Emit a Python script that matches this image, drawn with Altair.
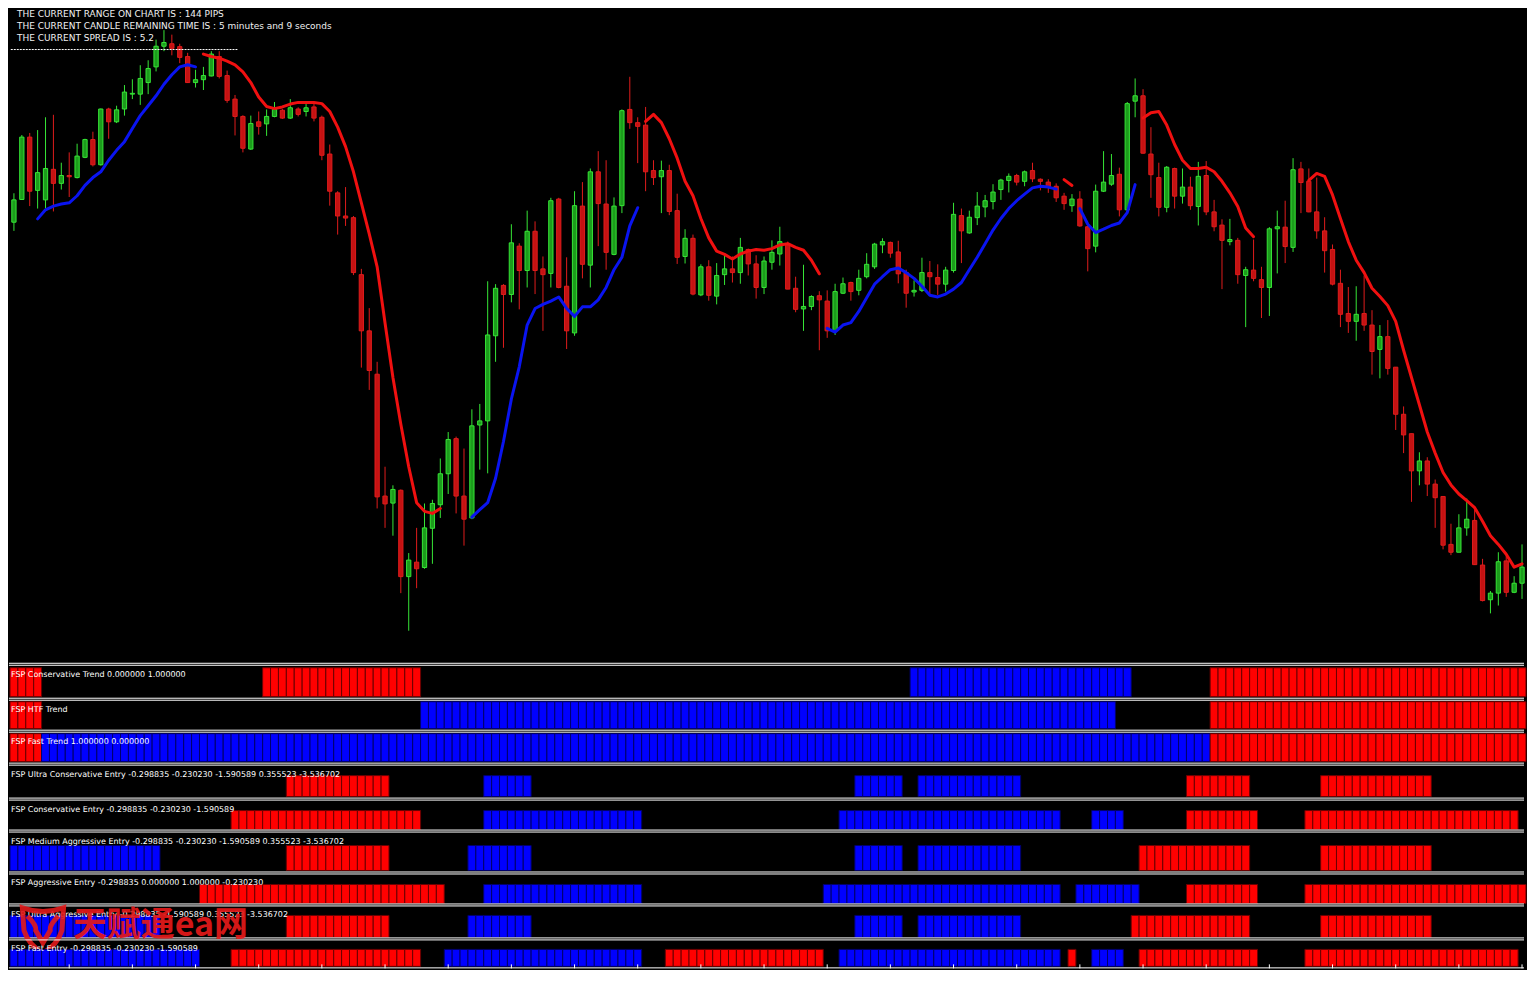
import altair as alt
import pandas as pd

# ---------------- data (prices stored as pipettes above 1.08000) ----------------
BASE = 1.08000
PIPETTE = 0.00001

OPEN = [
    1000, 1055, 1206, 1077, 1054, 1128, 1094, 1113, 1108, 1157, 1200, 1139, 1274, 1243, 1274, 1310,
    1310, 1338, 1376, 1426, 1432, 1425, 1401, 1338, 1345, 1354, 1401, 1355, 1298, 1256, 1177, 1243,
    1238, 1256, 1271, 1252, 1274, 1268, 1279, 1254, 1165, 1071, 1015, 1011, 873, 737, 632, 337,
    320, 351, 142, 177, 164, 259, 316, 391, 476, 337, 284, 509, 519, 725, 847, 825,
    942, 883, 978, 887, 876, 1056, 845, 732, 1039, 896, 1122, 1044, 922, 1040, 1273, 1241,
    1235, 1125, 1110, 1125, 1028, 917, 961, 824, 892, 821, 873, 887, 878, 934, 899, 842,
    903, 923, 948, 840, 790, 796, 822, 809, 737, 828, 854, 835, 868, 892, 945, 951,
    928, 878, 831, 835, 878, 866, 850, 883, 1016, 974, 1011, 1037, 1050, 1079, 1101, 1113,
    1099, 1125, 1104, 1097, 1087, 1063, 1040, 1056, 989, 942, 1075, 1092, 1116, 1030, 1293, 1306,
    1165, 1108, 1036, 1130, 1063, 1085, 1038, 1113, 1025, 993, 953, 956, 871, 884, 861, 842,
    984, 988, 939, 1129, 1099, 1025, 979, 934, 852, 779, 760, 779, 751, 692, 723, 649,
    535, 488, 398, 422, 366, 336, 220, 201, 260, 278, 170, 86, 102, 180, 104, 126,
]
HIGH = [
    1070, 1211, 1216, 1223, 1254, 1260, 1144, 1169, 1190, 1202, 1219, 1275, 1277, 1282, 1332, 1346,
    1380, 1392, 1442, 1465, 1454, 1432, 1410, 1369, 1376, 1414, 1414, 1367, 1308, 1259, 1258, 1268,
    1273, 1291, 1274, 1298, 1278, 1286, 1287, 1258, 1188, 1075, 1085, 1015, 887, 792, 662, 408,
    363, 353, 199, 260, 319, 328, 428, 492, 481, 452, 547, 560, 857, 850, 850, 995,
    949, 1028, 1002, 917, 1059, 1059, 915, 1075, 1097, 1130, 1172, 1150, 1060, 1273, 1352, 1254,
    1279, 1150, 1149, 1139, 1069, 983, 970, 898, 908, 901, 920, 917, 962, 936, 920, 917,
    956, 989, 953, 868, 897, 823, 833, 835, 851, 866, 856, 885, 925, 950, 961, 953,
    955, 885, 859, 914, 906, 898, 892, 1047, 1033, 1028, 1073, 1066, 1092, 1105, 1118, 1117,
    1125, 1144, 1106, 1104, 1094, 1071, 1068, 1075, 991, 1091, 1172, 1165, 1132, 1291, 1348, 1322,
    1230, 1144, 1136, 1132, 1130, 1110, 1146, 1148, 1054, 1007, 1008, 962, 892, 958, 892, 988,
    1028, 1052, 1155, 1146, 1130, 1108, 1012, 946, 885, 843, 845, 871, 787, 751, 763, 649,
    554, 488, 443, 431, 377, 337, 270, 293, 331, 304, 185, 107, 201, 196, 143, 220,
]
LOW = [
    979, 1054, 1039, 1033, 1033, 1026, 1079, 1061, 1106, 1155, 1135, 1137, 1202, 1240, 1258, 1298,
    1284, 1310, 1365, 1414, 1404, 1385, 1337, 1326, 1320, 1353, 1348, 1289, 1210, 1169, 1175, 1212,
    1209, 1254, 1250, 1250, 1256, 1256, 1244, 1150, 1040, 970, 991, 872, 648, 594, 307, 260,
    241, 102, 11, 114, 161, 173, 284, 342, 295, 217, 281, 401, 392, 662, 696, 806,
    789, 842, 826, 737, 842, 840, 693, 725, 864, 842, 942, 885, 920, 1022, 1226, 1143,
    1075, 1090, 1022, 1017, 899, 900, 823, 821, 810, 801, 848, 854, 851, 871, 815, 826,
    885, 895, 838, 782, 737, 787, 690, 720, 727, 826, 810, 823, 864, 887, 925, 914,
    852, 793, 820, 831, 826, 824, 832, 878, 901, 972, 993, 1012, 1031, 1054, 1072, 1089,
    1087, 1097, 1077, 1071, 1049, 1030, 1025, 989, 881, 927, 1073, 1088, 1014, 1028, 1254, 1166,
    1059, 1014, 1024, 1033, 1045, 1030, 992, 1017, 978, 838, 944, 851, 746, 857, 768, 773,
    876, 901, 928, 1022, 1024, 960, 878, 847, 746, 732, 713, 737, 631, 622, 631, 497,
    441, 323, 363, 337, 260, 208, 194, 201, 241, 170, 82, 53, 72, 93, 102, 88,
]
CLOSE = [
    1054, 1206, 1075, 1120, 1130, 1094, 1113, 1110, 1160, 1200, 1139, 1274, 1243, 1272, 1315, 1312,
    1348, 1372, 1426, 1435, 1421, 1399, 1338, 1345, 1355, 1407, 1353, 1295, 1256, 1179, 1239, 1232,
    1256, 1273, 1252, 1277, 1261, 1277, 1252, 1162, 1075, 1015, 1010, 878, 737, 641, 335, 318,
    353, 142, 182, 161, 260, 319, 391, 474, 337, 281, 507, 519, 727, 840, 825, 950,
    883, 978, 883, 873, 1052, 842, 737, 1040, 898, 1122, 1045, 927, 1039, 1270, 1241, 1232,
    1122, 1108, 1125, 1026, 915, 961, 826, 892, 823, 871, 887, 878, 939, 899, 842, 906,
    927, 953, 838, 789, 796, 820, 812, 737, 832, 851, 832, 864, 898, 947, 953, 925,
    875, 828, 835, 878, 868, 850, 884, 1019, 979, 1012, 1039, 1052, 1073, 1102, 1111, 1097,
    1122, 1105, 1099, 1085, 1059, 1045, 1056, 991, 936, 1075, 1097, 1113, 1030, 1287, 1306, 1167,
    1115, 1036, 1133, 1063, 1085, 1040, 1111, 1025, 989, 956, 958, 873, 885, 864, 842, 984,
    989, 941, 1127, 1096, 1025, 979, 931, 850, 777, 760, 777, 751, 687, 723, 646, 535,
    485, 398, 422, 366, 333, 218, 201, 260, 281, 171, 84, 102, 178, 104, 126, 165,
]

# trend moving average, drawn blue while rising and red while falling (segments)
MA_UP_START = [3, 58, 103, 135]
MA_UP = [
    [1008, 1030, 1039, 1044, 1047, 1064, 1089, 1108, 1122, 1150, 1174, 1195, 1227, 1258, 1282, 1306,
     1334, 1357, 1376, 1381, 1376],
    [286, 304, 321, 380, 469, 572, 650, 751, 791, 801, 809, 819, 791, 772, 795, 795, 812, 842, 885,
     915, 991, 1035],
    [743, 734, 751, 757, 784, 817, 850, 868, 885, 889, 878, 864, 845, 823, 819, 826, 838, 854, 885,
     915, 948, 981, 1009, 1033, 1052, 1068, 1083, 1087, 1085, 1080],
    [1033, 995, 975, 983, 992, 998, 1023, 1091],
]
MA_DN_START = [24, 80, 133, 143, 164]
MA_DN = [
    [1407, 1401, 1397, 1390, 1381, 1364, 1338, 1303, 1280, 1275, 1279, 1286, 1290, 1290, 1290, 1287,
     1268, 1230, 1183, 1122, 1047, 972, 892, 756, 624, 511, 408, 321, 300, 295, 307],
    [1244, 1261, 1241, 1202, 1155, 1099, 1064, 1009, 962, 930, 922, 911, 923, 930, 934, 932, 936, 945,
     948, 939, 932, 908, 875],
    [1103, 1089],
    [1252, 1265, 1268, 1235, 1188, 1150, 1130, 1130, 1133, 1122, 1099, 1071, 1038, 986, 965],
    [1101, 1118, 1111, 1066, 1009, 953, 908, 878, 840, 820, 798, 760, 690, 624, 558, 492, 441, 394,
     364, 342, 326, 309, 276, 241, 220, 196, 165, 173],
]

INFO_LINES = [
    "THE CURRENT RANGE ON CHART IS : 144 PIPS",
    "THE CURRENT CANDLE REMAINING TIME IS : 5 minutes and 9 seconds",
    "THE CURRENT SPREAD IS : 5.2",
]
LEVEL = 1418            # dashed level line (pipettes)
LEVEL_SPAN = [-0.4, 28.3]  # candle index span of the dashed line

PANEL_LABELS = [
    "FSP Conservative Trend 0.000000 1.000000",
    "FSP HTF Trend",
    "FSP Fast Trend 1.000000 0.000000",
    "FSP Ultra Conservative Entry -0.298835 -0.230230 -1.590589 0.355523 -3.536702",
    "FSP Conservative Entry -0.298835 -0.230230 -1.590589",
    "FSP Medium Aggressive Entry -0.298835 -0.230230 -1.590589 0.355523 -3.536702",
    "FSP Aggressive Entry -0.298835 0.000000 1.000000 -0.230230",
    "FSP Ultra Aggressive Entry -0.298835 -1.590589 0.355523 -3.536702",
    "FSP Fast Entry -0.298835 -0.230230 -1.590589",
]
# runs of signal state: (state, first candle, last candle)
PANEL_RUNS = [
    [("dn", 0, 3), ("dn", 32, 51), ("up", 114, 141), ("dn", 152, 191)],
    [("dn", 0, 3), ("up", 52, 139), ("dn", 152, 191)],
    [("dn", 0, 3), ("up", 4, 151), ("dn", 152, 191)],
    [("dn", 35, 47), ("up", 60, 65), ("up", 107, 112), ("up", 115, 127), ("dn", 149, 156), ("dn", 166, 179)],
    [("dn", 28, 51), ("up", 60, 79), ("up", 105, 132), ("up", 137, 140), ("dn", 149, 157), ("dn", 164, 190)],
    [("up", 0, 18), ("dn", 35, 47), ("up", 58, 65), ("up", 107, 112), ("up", 115, 127), ("dn", 143, 156), ("dn", 166, 179)],
    [("dn", 24, 54), ("up", 60, 79), ("up", 103, 132), ("up", 135, 142), ("dn", 149, 157), ("dn", 164, 191)],
    [("up", 0, 18), ("dn", 35, 47), ("up", 58, 65), ("up", 107, 112), ("up", 115, 127), ("dn", 142, 156), ("dn", 166, 179)],
    [("up", 0, 23), ("dn", 28, 51), ("up", 55, 79), ("dn", 83, 102), ("up", 105, 132), ("dn", 134, 134),
     ("up", 137, 140), ("dn", 143, 157), ("dn", 164, 190)],
]
TIME_TICKS = [7, 15, 23, 31, 39, 47, 55, 63, 71, 79, 87, 95, 103, 111, 119, 127, 135, 143, 151, 159,
              167, 175, 183, 191]
WATERMARK = "天赋通ea网"

# ---------------- layout / style ----------------
W = 1517
MAIN_H = 656
PANEL_H = [34, 31, 32, 34, 31, 41, 31, 33, 29]
PANEL_BAND = [(3, 32), (2, 29), (2, 30), (11, 32), (11, 30), (14, 39), (11, 30), (10, 32), (10, 27)]
FONT = "DejaVu Sans"

BULL_FILL, BULL_EDGE = "#1c9c1c", "#36e636"
BEAR_FILL, BEAR_EDGE = "#c41212", "#e01c1c"
MA_BLUE, MA_RED = "#0a14f0", "#f01010"
BLK_FILL = {"up": "#0000ff", "dn": "#ff0000"}
BLK_EDGE = {"up": "#00006a", "dn": "#6a0000"}
SHIELD = ("M-1,-0.95 Q0,-0.6 1,-0.95 L0.92,0.15 Q0.7,0.85 0,1.25 Q-0.7,0.85 -0.92,0.15 Z "
          "M-0.75,-0.55 Q-0.3,-0.1 -0.35,0.15 L0,0.75 L0.35,0.15 Q0.3,-0.1 0.75,-0.55")


def price(p):
    return round(BASE + p * PIPETTE, 5)


XS = alt.Scale(domain=[-0.625, 191.25], nice=False, zero=False)
YS = alt.Scale(domain=[price(-69), price(1517)], nice=False, zero=False)

rows = []
for i in range(len(OPEN)):
    o, h, l, c = price(OPEN[i]), price(HIGH[i]), price(LOW[i]), price(CLOSE[i])
    up = CLOSE[i] >= OPEN[i]
    rows.append(dict(idx=i, open=o, high=h, low=l, close=c,
                     blo=min(o, c), bhi=max(o, c), x0=i - 0.27, x1=i + 0.27,
                     wick=BULL_EDGE if up else BEAR_EDGE,
                     fill=BULL_FILL if up else BEAR_FILL,
                     edge=BULL_EDGE if up else BEAR_EDGE))
candles = pd.DataFrame(rows)

ma_rows = []
for s, (start, vals) in enumerate(zip(MA_UP_START, MA_UP)):
    for k, v in enumerate(vals):
        ma_rows.append(dict(idx=start + k, ma=price(v), seg=f"u{s}", col=MA_BLUE))
for s, (start, vals) in enumerate(zip(MA_DN_START, MA_DN)):
    for k, v in enumerate(vals):
        ma_rows.append(dict(idx=start + k, ma=price(v), seg=f"d{s}", col=MA_RED))
ma = pd.DataFrame(ma_rows)

wicks = alt.Chart(candles).mark_rule(strokeWidth=1).encode(
    x=alt.X("idx:Q", scale=XS, axis=None),
    y=alt.Y("low:Q", scale=YS, axis=None),
    y2="high:Q",
    color=alt.Color("wick:N", scale=None),
)
bodies = alt.Chart(candles).mark_bar(strokeWidth=1).encode(
    x=alt.X("x0:Q", scale=XS, axis=None),
    x2="x1:Q",
    y=alt.Y("blo:Q", scale=YS, axis=None),
    y2="bhi:Q",
    fill=alt.Fill("fill:N", scale=None),
    stroke=alt.Stroke("edge:N", scale=None),
)
lines = alt.Chart(ma).mark_line(strokeWidth=3, strokeCap="round", strokeJoin="round").encode(
    x=alt.X("idx:Q", scale=XS, axis=None),
    y=alt.Y("ma:Q", scale=YS, axis=None),
    detail="seg:N",
    color=alt.Color("col:N", scale=None),
)
level_df = pd.DataFrame({"a": [LEVEL_SPAN[0]], "b": [LEVEL_SPAN[1]], "lvl": [price(LEVEL)]})
level = alt.Chart(level_df).mark_rule(color="white", strokeWidth=1, strokeDash=[2, 1]).encode(
    x=alt.X("a:Q", scale=XS, axis=None), x2="b:Q", y=alt.Y("lvl:Q", scale=YS, axis=None)
)
info_df = pd.DataFrame({"k": list(range(len(INFO_LINES))), "t": INFO_LINES})
info = alt.Chart(info_df).mark_text(
    align="left", baseline="middle", font=FONT, fontSize=9, color="#f0f0f0"
).encode(
    x=alt.value(8),
    y=alt.Y("k:O", scale=alt.Scale(type="point", range=[5, 29], padding=0), axis=None),
    text="t:N",
)
dummy = pd.DataFrame({"a": [0]})
main_bottom = alt.Chart(dummy).mark_rule(color="white", strokeWidth=1).encode(
    x=alt.value(0), x2=alt.value(W), y=alt.value(MAIN_H - 0.5)
)
main = alt.layer(wicks, bodies, lines, level, info, main_bottom).properties(width=W, height=MAIN_H)

panels = []
for k, label in enumerate(PANEL_LABELS):
    h = PANEL_H[k]
    t, b = PANEL_BAND[k]
    prow = []
    for state, s, e in PANEL_RUNS[k]:
        for i in range(s, e + 1):
            prow.append(dict(idx=i, x0=i - 0.5, x1=i + 0.5, lo=0, hi=1,
                             fill=BLK_FILL[state], edge=BLK_EDGE[state]))
    pdf = pd.DataFrame(prow)
    bars = alt.Chart(pdf).mark_bar(strokeWidth=1).encode(
        x=alt.X("x0:Q", scale=XS, axis=None),
        x2="x1:Q",
        y=alt.Y("lo:Q", scale=alt.Scale(domain=[0, 1], range=[b, t]), axis=None),
        y2="hi:Q",
        fill=alt.Fill("fill:N", scale=None),
        stroke=alt.Stroke("edge:N", scale=None),
    )
    top = alt.Chart(dummy).mark_rule(color="white", strokeWidth=1).encode(
        x=alt.value(0), x2=alt.value(W), y=alt.value(0.5))
    bot = alt.Chart(dummy).mark_rule(color="white", strokeWidth=1).encode(
        x=alt.value(0), x2=alt.value(W), y=alt.value(h - 0.5))
    lab = alt.Chart(pd.DataFrame({"t": [label]})).mark_text(
        align="left", baseline="middle", font=FONT, fontSize=8, color="white"
    ).encode(x=alt.value(2), y=alt.value(10), text="t:N")
    layers = [bars, top, bot, lab]
    if k == 7:
        wm = alt.Chart(pd.DataFrame({"t": [WATERMARK]})).mark_text(
            align="left", baseline="middle", font="Noto Sans CJK SC", fontWeight="bold",
            fontSize=34, color="#e41a1a", opacity=0.92
        ).encode(x=alt.value(64), y=alt.value(21), text="t:N")
        logo = alt.Chart(dummy).mark_point(
            shape=SHIELD, size=1700, filled=False, strokeWidth=5, color="#e41a1a", opacity=0.9
        ).encode(x=alt.value(34), y=alt.value(22))
        layers += [logo, wm]
    if k == len(PANEL_LABELS) - 1:
        tdf = pd.DataFrame({"idx": TIME_TICKS})
        ticks = alt.Chart(tdf).mark_rule(color="white", strokeWidth=1).encode(
            x=alt.X("idx:Q", scale=XS, axis=None), y=alt.value(h - 4), y2=alt.value(h))
        layers.append(ticks)
    panels.append(alt.layer(*layers).properties(width=W, height=h))

chart = alt.vconcat(main, *panels, spacing=1, bounds="flush").properties(
    background="black", padding=0
).configure_view(stroke=None)

chart.save("out.html", embed_options={"renderer": "svg", "actions": False})
